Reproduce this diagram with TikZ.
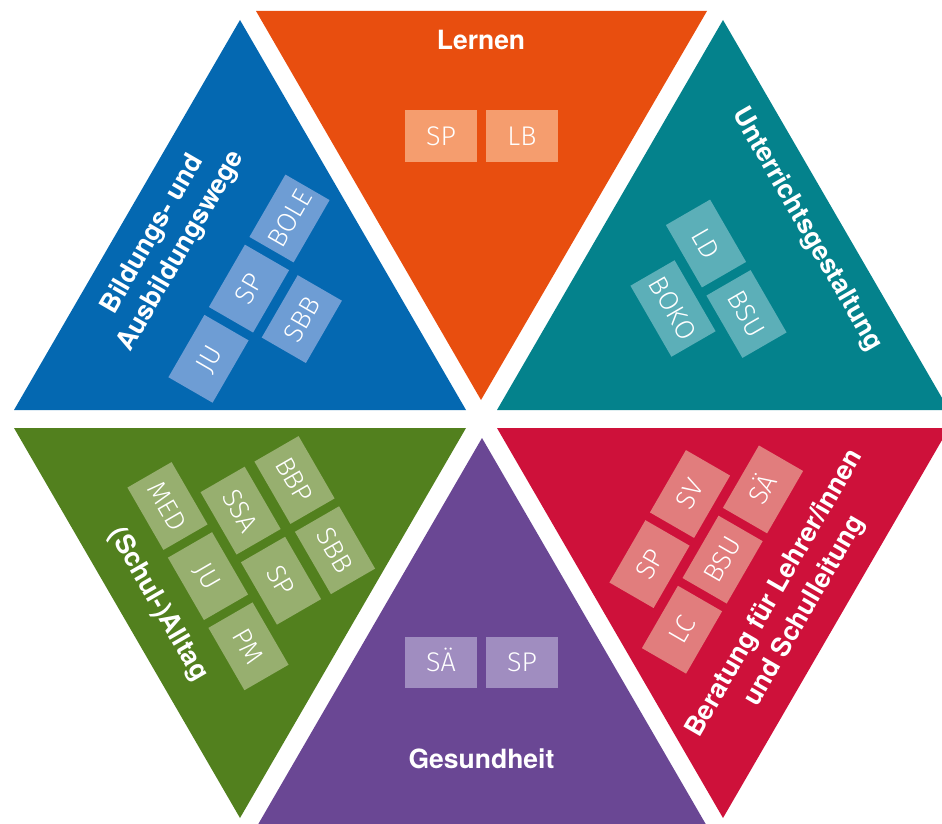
\documentclass[tikz,border=0pt]{standalone}
\usepackage{fontspec}
\setmainfont{TeX Gyre Heros}
\newfontfamily\lightfont{Fira Sans Light}
\definecolor{blueD}{HTML}{0468B1}
\definecolor{blueL}{HTML}{6E9DD4}
\definecolor{oranD}{HTML}{E84E0F}
\definecolor{oranL}{HTML}{F59D6E}
\definecolor{tealD}{HTML}{04828C}
\definecolor{tealL}{HTML}{5CAFB8}
\definecolor{grnD}{HTML}{52801E}
\definecolor{grnL}{HTML}{97AF6F}
\definecolor{purD}{HTML}{6A4794}
\definecolor{purL}{HTML}{A08DC0}
\definecolor{redD}{HTML}{CE113A}
\definecolor{redL}{HTML}{E17D7D}
\begin{document}
\begin{tikzpicture}[x=1pt,y=-1pt,
  ttl/.style={text=white, font=\fontsize{26.5}{32}\selectfont\bfseries, inner sep=0pt, anchor=base},
  lbox/.style={minimum width=72pt, minimum height=51pt, inner sep=0pt, text=white,
    text height=18.6pt, text depth=0pt, font=\lightfont\fontsize{27}{32}\selectfont},
  up/.style={lbox, rotate=60},
  dn/.style={lbox, rotate=-60},
  hz/.style={lbox}
]
\useasboundingbox (0,0) rectangle (942,824);
\clip (0,0) rectangle (942,824);
% triangles
\fill[blueD] (240,20) -- (14,410) -- (466,410) -- cycle;
\fill[oranD] (256,11) -- (707,11) -- (481,400) -- cycle;
\fill[tealD] (723,20) -- (497,410) -- (949,410) -- cycle;
\fill[grnD] (14,428) -- (466,428) -- (240,818) -- cycle;
\fill[purD] (482,438) -- (256,828) -- (708,828) -- cycle;
\fill[redD] (497,428) -- (949,428) -- (723,818) -- cycle;

% titles
\node[ttl] (tLernen) at (481,50) {Lernen};
\node[ttl] (tGes) at (481.5,768) {Gesundheit};
\node[ttl, rotate=60] (tBil1) at (159,238) {Bildungs- und};
\node[ttl, rotate=60] (tBil2) at (187.6,254.5) {Ausbildungswege};
\node[ttl, rotate=-60] (tUnt) at (801,233) {Unterrichtsgestaltung};
\node[ttl, rotate=-60] (tAll) at (152,608) {(Schul-)Alltag};
\node[ttl, rotate=60] (tBer1) at (781,597) {Beratung für Lehrer/innen};
\node[ttl, rotate=60] (tBer2) at (811.3,614.5) {und Schulleitung};

% orange boxes
\node[hz, fill=oranL] (oSP) at (441,136) {SP};
\node[hz, fill=oranL] (oLB) at (522,136) {LB};
% purple boxes
\node[hz, fill=purL] (pSA) at (441,662) {SÄ};
\node[hz, fill=purL] (pSP) at (522,662) {SP};
% blue boxes
\node[up, fill=blueL] (bBOLE) at (289.5,218.5) {BOLE};
\node[up, fill=blueL] (bSP) at (249,288.6) {SP};
\node[up, fill=blueL] (bJU) at (208.5,358.8) {JU};
\node[up, fill=blueL] (bSBB) at (301.8,319.1) {SBB};
% teal boxes
\node[dn, fill=tealL] (tLD) at (706,243.5) {LD};
\node[dn, fill=tealL] (tBSU) at (746.5,314) {BSU};
\node[dn, fill=tealL, minimum width=82pt] (tBOKO) at (673,308.5) {BOKO};
% green boxes
\node[dn, fill=grnL] (gMED) at (167.5,506) {MED};
\node[dn, fill=grnL] (gSSA) at (240.6,510.6) {SSA};
\node[dn, fill=grnL] (gBBP) at (294.5,480) {BBP};
\node[dn, fill=grnL] (gJU) at (208,576.1) {JU};
\node[dn, fill=grnL] (gSP) at (281,580.7) {SP};
\node[dn, fill=grnL] (gSBB) at (335,550.2) {SBB};
\node[dn, fill=grnL] (gPM) at (248.5,646.3) {PM};
% red boxes
\node[up, fill=redL] (rSV) at (690,494) {SV};
\node[up, fill=redL] (rSA) at (763,489.4) {SÄ};
\node[up, fill=redL] (rSP) at (649.5,564.1) {SP};
\node[up, fill=redL] (rBSU) at (722.6,559.6) {BSU};
\node[up, fill=redL] (rLC) at (682,629.7) {LC};
\end{tikzpicture}
\end{document}
